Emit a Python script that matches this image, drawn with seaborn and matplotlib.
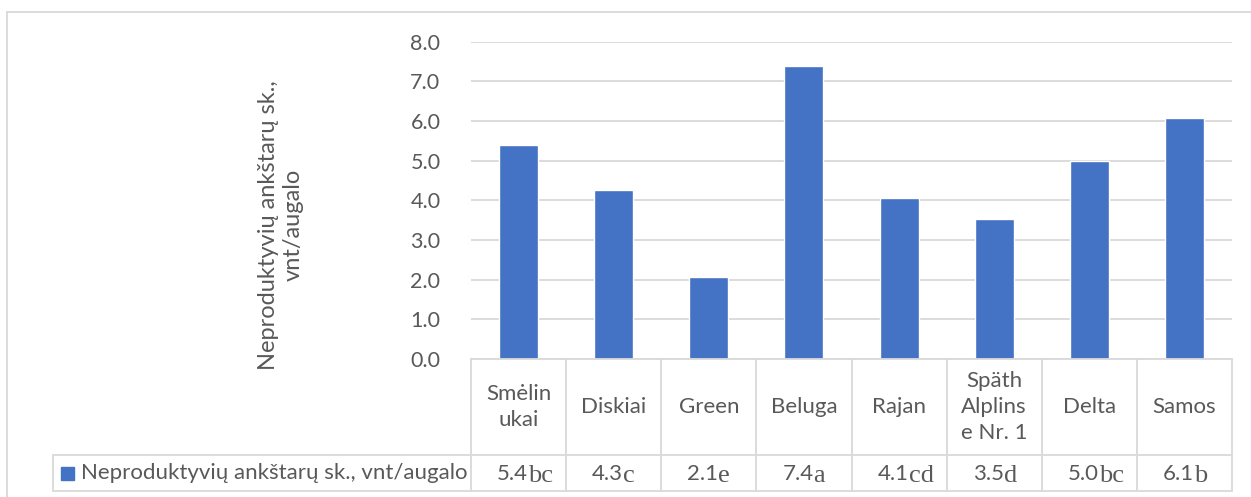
import matplotlib
matplotlib.use('Agg')
import matplotlib.pyplot as plt
import matplotlib.transforms as mtransforms
from matplotlib.lines import Line2D
from matplotlib.patches import Rectangle
import pandas as pd
import seaborn as sns

# Data
varieties = ['Smėlinukai', 'Diskiai', 'Green', 'Beluga', 'Rajan', 'Späth Alplinse Nr. 1', 'Delta', 'Samos']
col_labels = ['Smėlin\nukai', 'Diskiai', 'Green', 'Beluga', 'Rajan', 'Späth\nAlplins\ne Nr. 1', 'Delta', 'Samos']
values = [5.40, 4.26, 2.07, 7.38, 4.06, 3.53, 4.99, 6.07]
shown_values = ['5.4', '4.3', '2.1', '7.4', '4.1', '3.5', '5.0', '6.1']
letters = ['bc', 'c', 'e', 'a', 'cd', 'd', 'bc', 'b']
series_name = 'Neproduktyvių ankštarų sk., vnt/augalo'
y_label = 'Neproduktyvių ankštarų sk.,\nvnt/augalo'
y_ticks = [0, 1, 2, 3, 4, 5, 6, 7, 8]

df = pd.DataFrame({'variety': varieties, 'value': values})

sns.set_style('white')
plt.rcParams['font.family'] = ['Lato', 'DejaVu Sans']

W, H = 1251, 497
bar_color = '#4472C4'
grid_color = '#D9D9D9'
text_color = '#595959'
fs = 16


def fx(px):
    return px / W


def fy(py):
    return 1 - py / H


fig = plt.figure(figsize=(W / 100, H / 100), dpi=100)
ax = fig.add_axes([fx(471), fy(359), fx(1232) - fx(471), fy(41.5) - fy(359)])

sns.barplot(data=df, x='variety', y='value', color=bar_color, saturation=1,
            width=0.41, ax=ax)

ax.set_xlim(-0.5, len(varieties) - 0.5)
ax.set_ylim(0, 8)
ax.set_yticks(y_ticks)
ax.set_yticklabels([f'{t:.1f}' for t in y_ticks], color=text_color, fontsize=15.5)
ax.tick_params(axis='y', length=0, pad=22)
ax.set_xticks([])
ax.set_xlabel('')
ax.set_ylabel('')
ax.yaxis.grid(True, color=grid_color, linewidth=1.3)
ax.set_axisbelow(True)
for side in ['top', 'right', 'left']:
    ax.spines[side].set_visible(False)
ax.spines['bottom'].set_color(grid_color)
ax.spines['bottom'].set_linewidth(1.3)

# y axis title
fig.text(fx(281), fy(225), y_label, rotation=90, ha='center', va='center',
         multialignment='center', color=text_color, fontsize=fs + 1)

# data table under the axis
trans = mtransforms.blended_transform_factory(ax.transData, fig.transFigure)
y_axis, y_mid, y_bot = fy(359), fy(455), fy(491)
n = len(varieties)
for i in range(n + 1):
    ax.add_line(Line2D([i - 0.5, i - 0.5], [y_axis, y_bot], transform=trans,
                       color=grid_color, lw=1.3, clip_on=False))
ax.add_line(Line2D([-0.5, n - 0.5], [y_mid, y_mid], transform=trans,
                   color=grid_color, lw=1.3, clip_on=False))
ax.add_line(Line2D([-0.5, n - 0.5], [y_bot, y_bot], transform=trans,
                   color=grid_color, lw=1.3, clip_on=False))

for i, lab in enumerate(col_labels):
    ax.text(i, fy(407), lab, transform=trans, ha='center', va='center',
            multialignment='center', color=text_color, fontsize=fs, linespacing=1.35)
    ax.text(i + 0.1, fy(480), shown_values[i], transform=trans, ha='right',
            va='baseline', color=text_color, fontsize=fs)
    ax.text(i + 0.1, fy(482), letters[i], transform=trans, ha='left',
            va='baseline', color=text_color, fontsize=fs + 3,
            family=['Liberation Serif', 'DejaVu Serif'])

# legend cell
fig.add_artist(Line2D([fx(53), fx(471)], [y_mid, y_mid], color=grid_color, lw=1.3))
fig.add_artist(Line2D([fx(53), fx(471)], [y_bot, y_bot], color=grid_color, lw=1.3))
fig.add_artist(Line2D([fx(53), fx(53)], [y_mid, y_bot], color=grid_color, lw=1.3))
fig.add_artist(Rectangle((fx(61), fy(480)), 13 / W, 13 / H, color=bar_color))
fig.text(fx(81), fy(473), series_name, ha='left', va='center',
         color=text_color, fontsize=fs)

# outer chart border
fig.add_artist(Line2D([fx(7), 1], [fy(12), fy(12)], color=grid_color, lw=1.3))
fig.add_artist(Line2D([fx(7), fx(7)], [fy(12), 0], color=grid_color, lw=1.3))

fig.savefig('out.png', dpi=100)
